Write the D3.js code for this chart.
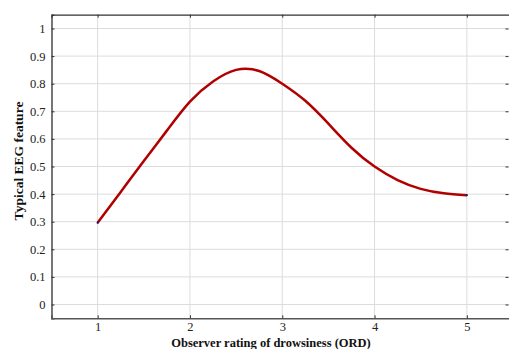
<!DOCTYPE html>
<html><head><meta charset="utf-8">
<script src="https://cdn.jsdelivr.net/npm/d3@7"></script>
<style>html,body{margin:0;padding:0;background:#fff;overflow:hidden}</style>
</head><body>
<svg id="chart" width="509" height="349"></svg>
<script>
const xValues = [1, 1.25, 1.5, 1.75, 2, 2.25, 2.5, 2.75, 3, 3.25, 3.5, 3.75, 4, 4.25, 4.5, 4.75, 5];
const yValues = [0.296, 0.408, 0.520, 0.630, 0.735, 0.808, 0.850, 0.846, 0.800, 0.738, 0.655, 0.568, 0.500, 0.451, 0.419, 0.403, 0.396];
const xTicks = [1, 2, 3, 4, 5];
const yTicks = [0, 0.1, 0.2, 0.3, 0.4, 0.5, 0.6, 0.7, 0.8, 0.9, 1];
const xTitle = "Observer rating of drowsiness (ORD)";
const yTitle = "Typical EEG feature";

const svg = d3.select("#chart");
const font = "'Liberation Serif', 'Times New Roman', serif";
const x = d3.scaleLinear().domain([0.5, 5.5]).range([51.5, 513]);
const y = d3.scaleLinear().domain([-0.05, 1.05]).range([318.3, 14.7]);
const [x0, x1] = x.range(), [yb, yt] = y.range();

// grid
svg.append("g").selectAll("line").data(yTicks).join("line")
  .attr("x1", x0).attr("x2", x1).attr("y1", d => y(d)).attr("y2", d => y(d))
  .attr("stroke", "#dcdcdc").attr("stroke-width", 1);
svg.append("g").selectAll("line").data(xTicks).join("line")
  .attr("y1", yb).attr("y2", yt).attr("x1", d => x(d)).attr("x2", d => x(d))
  .attr("stroke", "#dcdcdc").attr("stroke-width", 1);

// axes
const ax = svg.append("g").attr("transform", `translate(0,${yb})`)
  .call(d3.axisBottom(x).tickValues(xTicks).tickSize(-3).tickPadding(4).tickFormat(d3.format("d")));
const ay = svg.append("g").attr("transform", `translate(${x0},0)`)
  .call(d3.axisLeft(y).tickValues(yTicks).tickSize(-3).tickPadding(6).tickFormat(d => d === 0 || d === 1 ? String(d) : d3.format(".1f")(d)));
const axTop = svg.append("g").attr("transform", `translate(0,${yt})`)
  .call(d3.axisTop(x).tickValues(xTicks).tickSize(-3).tickFormat(""));
const ayR = svg.append("g").attr("transform", `translate(${x1 - 4.5},0)`)
  .call(d3.axisRight(y).tickValues(yTicks).tickSize(-3).tickFormat(""));
[ax, ay, axTop, ayR].forEach(g => {
  g.selectAll(".tick line").attr("stroke", "#333");
  g.selectAll("text").attr("font-family", font).attr("font-size", 12.5).attr("fill", "#222");
});
ax.select(".domain").attr("stroke", "#555").attr("stroke-width", 1.6);
ay.select(".domain").attr("stroke", "#555").attr("stroke-width", 1.6);
axTop.select(".domain").attr("stroke", "#333").attr("stroke-width", 1.2);
ayR.select(".domain").remove();

// curve
const data = xValues.map((v, i) => [v, yValues[i]]);
svg.append("path").datum(data)
  .attr("fill", "none").attr("stroke", "#b00000").attr("stroke-width", 2.5)
  .attr("stroke-linejoin", "round")
  .attr("d", d3.line().x(d => x(d[0])).y(d => y(d[1])).curve(d3.curveNatural));
svg.selectAll("circle.end").data([data[0], data[data.length - 1]]).join("circle")
  .attr("class", "end").attr("cx", d => x(d[0])).attr("cy", d => y(d[1])).attr("r", 1.1).attr("fill", "#1a1a80");

// titles
svg.append("text").attr("x", 271).attr("y", 347).attr("text-anchor", "middle")
  .attr("font-family", font).attr("font-size", 12.5).attr("font-weight", "bold").attr("fill", "#111")
  .text(xTitle);
svg.append("text").attr("transform", "translate(22.5,161) rotate(-90)").attr("text-anchor", "middle")
  .attr("font-family", font).attr("font-size", 13.5).attr("font-weight", "bold").attr("fill", "#111")
  .text(yTitle);
</script>
</body></html>
